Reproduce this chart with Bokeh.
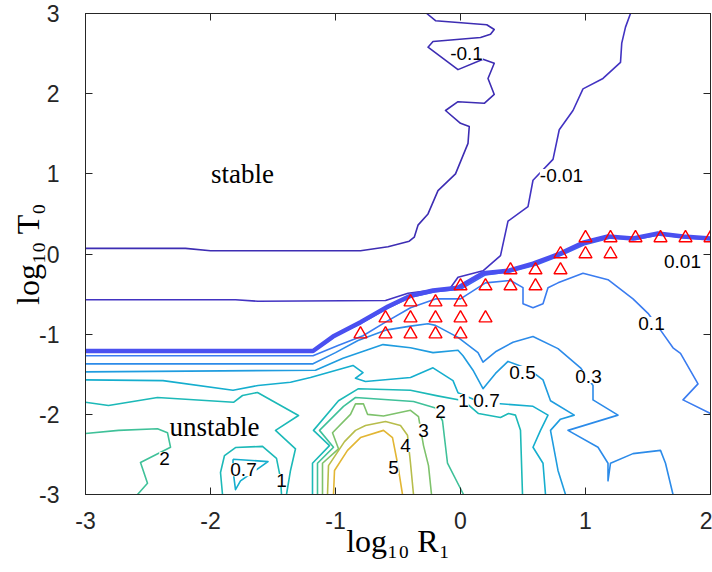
from bokeh.plotting import figure
from bokeh.models import ColumnDataSource, LabelSet, Label, LinearAxis, FixedTicker, Range1d
from bokeh.core.properties import value
from bokeh.embed import file_html
from bokeh.resources import INLINE

# axis ticks
x_ticks = [-3, -2, -1, 0, 1, 2]
y_ticks = [-3, -2, -1, 0, 1, 2, 3]

# ---- contour lines of the growth rate, traced in (log10 R1, log10 T0) ----
# level -0.1
lv_m010_x = [-3.0, -2.2, -2.0, -0.8, -0.58, -0.41, -0.37, -0.34, -0.26, -0.18, -0.04, 0.06, 0.07, 0.0,
             -0.12, -0.02, 0.19, 0.27, 0.22, 0.27, 0.18, -0.02, -0.26, -0.22, 0.16, 0.24, 0.27, 0.21, -0.2, -0.27]
lv_m010_y = [0.07, 0.07, 0.04, 0.04, 0.09, 0.16, 0.21, 0.36, 0.50, 0.79, 1.00, 1.38, 1.59, 1.63,
             1.79, 1.90, 1.88, 1.99, 2.19, 2.38, 2.43, 2.30, 2.58, 2.65, 2.70, 2.74, 2.80, 2.86, 2.91, 3.0]

# level -0.01
lv_m001_x = [-3.0, -1.8, -1.62, -0.6, -0.42, -0.08, -0.02, 0.18, 0.32, 0.38, 0.54, 0.58, 0.74, 0.79,
             0.90, 0.98, 1.14, 1.28, 1.29, 1.32, 1.36]
lv_m001_y = [-0.57, -0.57, -0.59, -0.58, -0.49, -0.42, -0.29, -0.21, -0.02, 0.41, 0.59, 0.92, 1.18, 1.55,
             1.79, 2.06, 2.19, 2.39, 2.63, 2.83, 3.0]

# neutral curve (level 0)
lv_0_x = [-3.0, -1.18, -1.02, -0.8, -0.58, -0.4, -0.22, -0.02, 0.18, 0.38, 0.58, 0.78, 0.98, 1.18,
          1.38, 1.58, 1.78, 2.0]
lv_0_y = [-1.21, -1.21, -1.03, -0.85, -0.655, -0.52, -0.455, -0.42, -0.24, -0.21, -0.12, -0.006, 0.14,
          0.218, 0.194, 0.256, 0.218, 0.194]

# level 0.01
lv_001_x = [-3.0, -1.18, -1.0, -0.8, -0.6, -0.4, -0.2, 0.0, 0.2, 0.4, 0.6, 0.8, 1.0, 1.2, 1.4, 1.6, 1.8, 2.0]
lv_001_y = [-1.22, -1.22, -1.02, -0.87, -0.69, -0.54, -0.47, -0.44, -0.26, -0.22, -0.14, -0.02, 0.12, 0.2,
            0.18, 0.24, 0.2, 0.18]

# level 0.1
lv_010_x = [-3.0, -1.18, -0.98, -0.78, -0.6, -0.4, -0.2, 0.0, 0.2, 0.4, 0.5, 0.5, 0.58, 0.66, 0.7, 0.78,
            0.98, 1.18, 1.38, 1.5, 1.6, 1.7, 1.76, 1.9, 1.78, 2.0]
lv_010_y = [-1.27, -1.27, -1.14, -1.02, -0.85, -0.67, -0.56, -0.56, -0.36, -0.33, -0.42, -0.62, -0.67,
            -0.62, -0.42, -0.36, -0.24, -0.32, -0.56, -0.74, -0.95, -1.17, -1.24, -1.62, -1.82, -1.99]

# level 0.3
lv_030_x = [-3.0, -1.18, -1.0, -0.82, -0.6, -0.4, -0.26, -0.2, -0.02, 0.14, 0.18, 0.28, 0.42, 0.58, 0.78,
            0.96, 1.06, 1.06, 1.26, 0.86, 1.1, 1.18, 1.18, 1.2, 1.38, 1.6, 1.64, 1.7]
lv_030_y = [-1.37, -1.37, -1.23, -1.08, -0.95, -0.90, -0.87, -0.89, -1.04, -1.23, -1.35, -1.22, -1.10,
            -1.03, -1.18, -1.42, -1.64, -1.82, -2.01, -2.20, -2.41, -2.61, -2.83, -2.61, -2.49, -2.45,
            -2.61, -3.0]

# level 0.5
lv_050_x = [-3.0, -1.16, -0.94, -0.62, -0.4, -0.22, -0.02, 0.02, 0.1, 0.18, 0.28, 0.38, 0.54, 0.66,
            0.72, 0.91, 0.8, 0.72, 0.78, 0.84]
lv_050_y = [-1.47, -1.45, -1.30, -1.13, -1.17, -1.23, -1.20, -1.27, -1.45, -1.68, -1.49, -1.34, -1.43,
            -1.57, -1.83, -2.01, -2.06, -2.20, -2.70, -3.0]

# level 0.7 (main branch and the small pocket near the bottom)
lv_070_x = [-3.0, -2.38, -1.82, -1.62, -1.36, -1.2, -0.86, -0.78, -0.84, -0.76, -0.4, -0.22, -0.06,
            -0.02, 0.16, 0.58, 0.7, 0.64, 0.58, 0.66, 0.68]
lv_070_y = [-1.57, -1.58, -1.70, -1.64, -1.60, -1.54, -1.39, -1.48, -1.55, -1.59, -1.54, -1.42, -1.58,
            -1.73, -1.85, -1.90, -2.01, -2.20, -2.41, -2.61, -3.0]
lv_070b_x = [-1.82, -1.54, -1.76, -1.80, -1.82, -1.82]
lv_070b_y = [-2.56, -2.59, -2.83, -2.94, -2.70, -2.56]

# level 1 (left branch, pocket, central branch)
lv_1a_x = [-3.0, -2.816, -2.424, -1.816, -1.744, -1.624, -1.296, -1.48, -1.32, -1.36, -1.392]
lv_1a_y = [-1.85, -1.89, -1.79, -1.85, -1.765, -1.727, -2.015, -2.20, -2.43, -2.70, -3.0]
lv_1b_x = [-1.904, -1.92, -1.888, -1.8, -1.584, -1.472, -1.44, -1.432]
lv_1b_y = [-3.0, -2.726, -2.514, -2.414, -2.40, -2.55, -2.80, -3.0]
lv_1c_x = [-1.184, -1.184, -1.048, -1.176, -0.976, -0.816, -0.4, -0.184, 0.024, 0.144, 0.32, 0.384,
           0.44, 0.48, 0.496]
lv_1c_y = [-3.0, -2.61, -2.39, -2.20, -1.83, -1.68, -1.70, -1.77, -1.83, -1.99, -2.04, -1.99, -2.01,
           -2.20, -3.0]

# level 2 (left corner and central peak)
lv_2a_x = [-3.0, -2.736, -2.424, -2.344, -2.32, -2.56, -2.504, -2.584]
lv_2a_y = [-2.24, -2.20, -2.18, -2.23, -2.41, -2.60, -2.86, -3.0]
lv_2b_x = [-1.144, -1.144, -1.016, -1.128, -0.936, -0.84, -0.376, -0.2, -0.144, -0.104, 0.024]
lv_2b_y = [-3.0, -2.61, -2.41, -2.20, -1.90, -1.79, -1.84, -1.92, -2.08, -2.61, -3.0]

# level 3
lv_3_x = [-1.104, -1.104, -0.976, -1.024, -0.88, -0.84, -0.776, -0.744, -0.616, -0.4, -0.336, -0.296,
          -0.256, -0.232]
lv_3_y = [-3.0, -2.61, -2.43, -2.23, -2.00, -1.87, -1.87, -2.00, -2.02, -1.95, -2.03, -2.39, -2.64, -3.0]

# level 4
lv_4_x = [-1.064, -1.056, -0.928, -0.84, -0.76, -0.6, -0.48, -0.424, -0.4, -0.376]
lv_4_y = [-3.0, -2.64, -2.34, -2.20, -2.14, -2.09, -2.14, -2.26, -2.61, -3.0]

# level 5
lv_5_x = [-1.016, -1.008, -0.904, -0.8, -0.616, -0.544, -0.504, -0.464]
lv_5_y = [-3.0, -2.70, -2.45, -2.29, -2.20, -2.29, -2.61, -3.0]

# computed unstable points
tri_x = [1.0, 1.2, 1.4, 1.6, 1.8, 2.0,
         0.8, 1.0, 1.2,
         0.4, 0.6, 0.8,
         0.0, 0.2, 0.4, 0.6,
         -0.4, -0.2, 0.0,
         -0.6, -0.4, -0.2, 0.0, 0.2,
         -0.8, -0.6, -0.4, -0.2, 0.0]
tri_y = [0.2, 0.2, 0.2, 0.2, 0.2, 0.2,
         0.0, 0.0, 0.0,
         -0.2, -0.2, -0.2,
         -0.4, -0.4, -0.4, -0.4,
         -0.6, -0.6, -0.6,
         -0.8, -0.8, -0.8, -0.8, -0.8,
         -1.0, -1.0, -1.0, -1.0, -1.0]

# contour labels
lab_text = ["-0.1", "-0.01", "0.01", "0.1", "0.5", "0.3", "1", "0.7", "2", "3", "4", "5", "2", "0.7", "1"]
lab_x = [0.048, 0.808, 1.776, 1.528, 0.496, 1.024, 0.024, 0.208, -0.16, -0.296, -0.44, -0.536,
         -2.368, -1.736, -1.432]
lab_y = [2.50, 0.979, -0.093, -0.867, -1.478, -1.528, -1.827, -1.827, -1.965, -2.20, -2.389, -2.663,
         -2.551, -2.69, -2.825]

AX = "#262626"

p = figure(width=712, height=572, x_range=Range1d(-3, 2), y_range=Range1d(-3, 3),
           output_backend="svg", toolbar_location=None,
           min_border_left=85, min_border_right=2, min_border_top=13, min_border_bottom=78)
p.grid.visible = False
p.outline_line_color = AX
p.background_fill_color = "white"
p.border_fill_color = "white"

thin = 1.6
styles = [
    ([lv_m010_x], [lv_m010_y], "#3d2db3", thin),
    ([lv_m001_x], [lv_m001_y], "#4233c2", thin),
    ([lv_001_x], [lv_001_y], "#3f63f2", thin),
    ([lv_010_x], [lv_010_y], "#3a7cf0", thin),
    ([lv_030_x], [lv_030_y], "#2c8be9", thin),
    ([lv_050_x], [lv_050_y], "#1f9cdf", thin),
    ([lv_070_x, lv_070b_x], [lv_070_y, lv_070b_y], "#15aece", thin),
    ([lv_1a_x, lv_1b_x, lv_1c_x], [lv_1a_y, lv_1b_y, lv_1c_y], "#1cb9b8", thin),
    ([lv_2a_x, lv_2b_x], [lv_2a_y, lv_2b_y], "#3fc199", thin),
    ([lv_3_x], [lv_3_y], "#7ec26c", thin),
    ([lv_4_x], [lv_4_y], "#b7bd4b", thin),
    ([lv_5_x], [lv_5_y], "#e2b634", thin),
]
for xs, ys, col, lw in styles:
    p.multi_line(xs, ys, line_color=col, line_width=lw, line_join="round")

# neutral stability boundary
p.line(lv_0_x, lv_0_y, line_color="#4a50f0", line_width=4.5, line_join="round")

p.scatter(tri_x, tri_y, marker="triangle", size=13, fill_color=None,
          line_color="#ff0000", line_width=1.4)

src = ColumnDataSource(dict(x=lab_x, y=lab_y, text=lab_text))
p.add_layout(LabelSet(x="x", y="y", text="text", source=src,
                      text_font=value("Liberation Sans"), text_font_size="19px",
                      text_color="#000000", text_align="center", text_baseline="middle",
                      background_fill_color="white"))

p.add_layout(Label(x=-1.744, y=1.0, text="stable", text_font="Liberation Serif",
                   text_font_size="27px", text_color="#000000",
                   text_align="center", text_baseline="middle"))
p.add_layout(Label(x=-1.968, y=-2.164, text="unstable", text_font="Liberation Serif",
                   text_font_size="27px", text_color="#000000",
                   text_align="center", text_baseline="middle"))

# axes: inward ticks, boxed frame, plain hyphen minus signs
p.xaxis.ticker = FixedTicker(ticks=x_ticks)
p.yaxis.ticker = FixedTicker(ticks=y_ticks)
p.xaxis.major_label_overrides = {t: str(t) for t in x_ticks}
p.yaxis.major_label_overrides = {t: str(t) for t in y_ticks}
for ax in (p.xaxis[0], p.yaxis[0]):
    ax.major_tick_in = 7
    ax.major_tick_out = 0
    ax.minor_tick_line_color = None
    ax.axis_line_color = AX
    ax.major_tick_line_color = AX
    ax.major_label_text_font = "Liberation Sans"
    ax.major_label_text_font_size = "23px"
    ax.major_label_text_color = AX
    ax.axis_label_text_font = "Liberation Serif"
    ax.axis_label_text_font_size = "32px"
    ax.axis_label_text_font_style = "normal"
    ax.axis_label_text_color = "#000000"
p.xaxis.axis_label = "log₁₀ R₁"
p.yaxis.axis_label = "log₁₀ T₀"
p.xaxis.major_label_standoff = 17
p.yaxis.major_label_standoff = 26
p.xaxis.axis_label_standoff = -9
p.yaxis.axis_label_standoff = -10

for side, tk in (("above", x_ticks), ("right", y_ticks)):
    a = LinearAxis(ticker=FixedTicker(ticks=tk), major_tick_in=7, major_tick_out=0,
                   minor_tick_line_color=None, axis_line_color=AX, major_tick_line_color=AX,
                   major_label_text_color=None, major_label_text_alpha=0,
                   major_label_text_font_size="1px", major_label_standoff=0)
    p.add_layout(a, side)

open("out.html", "w").write(file_html(p, INLINE))
